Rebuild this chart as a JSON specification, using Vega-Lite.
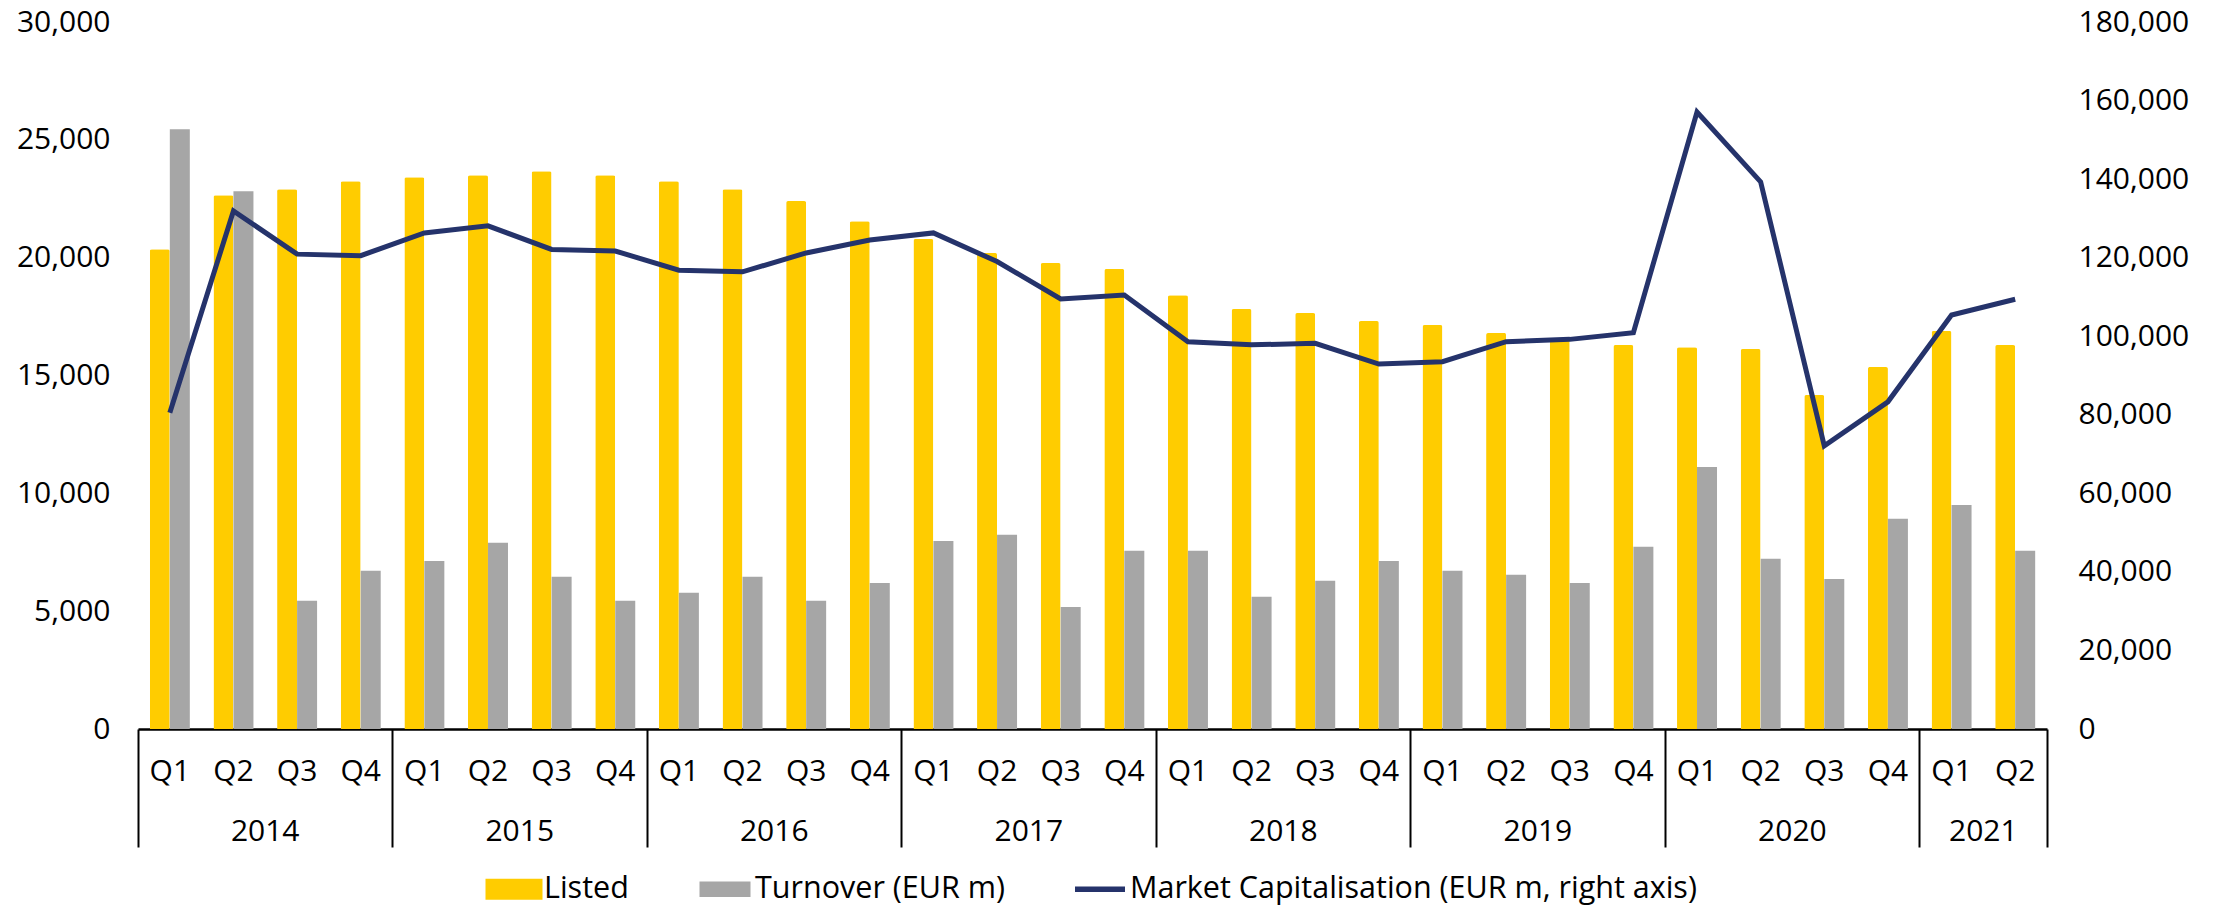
{
  "$schema": "https://vega.github.io/schema/vega-lite/v6.json",
  "autosize": {"type": "none"},
  "padding": {"left": 138, "top": 22, "right": 174, "bottom": 178},
  "width": 1909,
  "height": 707,
  "config": {
    "font": "Open Sans",
    "view": {"stroke": null},
    "axis": {"labelColor": "black", "labelFontSize": 30, "labelFont": "Open Sans", "grid": false, "title": null},
    "legend": {"layout": {"bottom": {"anchor": "middle"}}}
  },
  "data": {
    "values": [
      {"period": "2014 Q1", "Listed": 20360, "Turnover (EUR m)": 25450, "mcap": 80500},
      {"period": "2014 Q2", "Listed": 22650, "Turnover (EUR m)": 22820, "mcap": 131900},
      {"period": "2014 Q3", "Listed": 22900, "Turnover (EUR m)": 5440, "mcap": 120900},
      {"period": "2014 Q4", "Listed": 23240, "Turnover (EUR m)": 6710, "mcap": 120500},
      {"period": "2015 Q1", "Listed": 23410, "Turnover (EUR m)": 7130, "mcap": 126300},
      {"period": "2015 Q2", "Listed": 23500, "Turnover (EUR m)": 7900, "mcap": 128100},
      {"period": "2015 Q3", "Listed": 23670, "Turnover (EUR m)": 6460, "mcap": 122100},
      {"period": "2015 Q4", "Listed": 23500, "Turnover (EUR m)": 5440, "mcap": 121700},
      {"period": "2016 Q1", "Listed": 23240, "Turnover (EUR m)": 5780, "mcap": 116800},
      {"period": "2016 Q2", "Listed": 22900, "Turnover (EUR m)": 6460, "mcap": 116400},
      {"period": "2016 Q3", "Listed": 22400, "Turnover (EUR m)": 5440, "mcap": 121200},
      {"period": "2016 Q4", "Listed": 21550, "Turnover (EUR m)": 6200, "mcap": 124500},
      {"period": "2017 Q1", "Listed": 20790, "Turnover (EUR m)": 7980, "mcap": 126300},
      {"period": "2017 Q2", "Listed": 20200, "Turnover (EUR m)": 8240, "mcap": 119000},
      {"period": "2017 Q3", "Listed": 19770, "Turnover (EUR m)": 5180, "mcap": 109500},
      {"period": "2017 Q4", "Listed": 19520, "Turnover (EUR m)": 7560, "mcap": 110500},
      {"period": "2018 Q1", "Listed": 18410, "Turnover (EUR m)": 7560, "mcap": 98600},
      {"period": "2018 Q2", "Listed": 17820, "Turnover (EUR m)": 5610, "mcap": 97800},
      {"period": "2018 Q3", "Listed": 17650, "Turnover (EUR m)": 6290, "mcap": 98200},
      {"period": "2018 Q4", "Listed": 17310, "Turnover (EUR m)": 7130, "mcap": 92900},
      {"period": "2019 Q1", "Listed": 17140, "Turnover (EUR m)": 6710, "mcap": 93500},
      {"period": "2019 Q2", "Listed": 16800, "Turnover (EUR m)": 6540, "mcap": 98600},
      {"period": "2019 Q3", "Listed": 16550, "Turnover (EUR m)": 6200, "mcap": 99200},
      {"period": "2019 Q4", "Listed": 16290, "Turnover (EUR m)": 7730, "mcap": 100900},
      {"period": "2020 Q1", "Listed": 16200, "Turnover (EUR m)": 11120, "mcap": 157100},
      {"period": "2020 Q2", "Listed": 16120, "Turnover (EUR m)": 7220, "mcap": 139300},
      {"period": "2020 Q3", "Listed": 14170, "Turnover (EUR m)": 6370, "mcap": 72100},
      {"period": "2020 Q4", "Listed": 15360, "Turnover (EUR m)": 8920, "mcap": 83300},
      {"period": "2021 Q1", "Listed": 16890, "Turnover (EUR m)": 9510, "mcap": 105400},
      {"period": "2021 Q2", "Listed": 16290, "Turnover (EUR m)": 7560, "mcap": 109400}
    ]
  },
  "layer": [
    {
      "transform": [
        {"fold": ["Listed", "Turnover (EUR m)"], "as": ["series", "val"]},
        {"filter": "datum.series === 'Listed'"}
      ],
      "mark": {"type": "bar", "cornerRadiusTopLeft": 2, "cornerRadiusTopRight": 2},
      "encoding": {
        "x": {
          "field": "period", "type": "ordinal", "sort": null,
          "scale": {"paddingInner": 0, "paddingOuter": 0},
          "axis": {
            "orient": "bottom", "labelExpr": "slice(datum.value, 5)", "labelAngle": 0,
            "ticks": false, "domain": true, "domainColor": "black", "domainWidth": 2.5,
            "labelPadding": 27, "labelOverlap": false, "labelBound": false
          }
        },
        "xOffset": {
          "field": "series", "type": "nominal",
          "scale": {"domain": ["Listed", "Turnover (EUR m)"], "paddingInner": 0, "paddingOuter": 0.591}
        },
        "y": {
          "field": "val", "type": "quantitative",
          "scale": {"domain": [0, 30000], "nice": false},
          "axis": {
            "orient": "left", "values": [0, 5000, 10000, 15000, 20000, 25000, 30000], "format": ",d",
            "domain": false, "ticks": false, "labelPadding": 28
          }
        },
        "color": {
          "field": "series", "type": "nominal",
          "scale": {
            "domain": ["Listed", "Turnover (EUR m)", "Market Capitalisation (EUR m, right axis)"],
            "range": ["#FFCC00", "#A6A6A6", "#25336B"]
          },
          "legend": {
            "title": null, "orient": "bottom", "direction": "horizontal", "offset": 16,
            "labelFontSize": 30.5, "labelFont": "Open Sans", "labelColor": "black", "labelLimit": 1000,
            "symbolSize": 3249, "labelOffset": 5, "columnPadding": 70,
            "encode": {
              "symbols": {
                "update": {
                  "shape": {"signal": "datum.value === 'Listed' ? 'M-1,-0.37H1V0.37H-1Z' : (datum.value === 'Turnover (EUR m)' ? 'M-1,-0.3H1V0.3H-1Z' : 'M-1,-0.11H1V0.11H-1Z')"},
                  "size": {"signal": "datum.value === 'Listed' ? 3249 : (datum.value === 'Turnover (EUR m)' ? 2601 : 2500)"},
                  "fill": {"signal": "scale('color', datum.value)"},
                  "stroke": {"value": "transparent"},
                  "strokeWidth": {"value": 0},
                  "opacity": {"value": 1},
                  "fillOpacity": {"value": 1}
                }
              }
            }
          }
        }
      }
    },
    {
      "transform": [
        {"fold": ["Listed", "Turnover (EUR m)"], "as": ["series", "val"]},
        {"filter": "datum.series === 'Turnover (EUR m)'"}
      ],
      "mark": {"type": "bar"},
      "encoding": {
        "x": {
          "field": "period", "type": "ordinal", "sort": null,
          "axis": {
            "orient": "bottom",
            "values": ["2014 Q1", "2015 Q1", "2016 Q1", "2017 Q1", "2018 Q1", "2019 Q1", "2020 Q1", "2021 Q1"],
            "bandPosition": 0,
            "labelExpr": "slice(datum.value, 0, 4)", "labelAngle": 0,
            "ticks": true, "tickSize": 118, "tickWidth": 2, "tickColor": "black",
            "domain": false, "labelPadding": -31, "labelOverlap": false, "labelBound": false,
            "labelOffset": {"condition": {"test": "datum.value === '2021 Q1'", "value": 31.8}, "value": 95.4}
          }
        },
        "xOffset": {"field": "series", "type": "nominal"},
        "y": {
          "field": "val", "type": "quantitative",
          "scale": {"domain": [0, 30000], "nice": false},
          "axis": null
        },
        "color": {"field": "series", "type": "nominal"}
      }
    },
    {
      "mark": {"type": "line", "strokeWidth": 5, "strokeJoin": "miter"},
      "encoding": {
        "x": {
          "field": "period", "type": "ordinal", "sort": null,
          "axis": {
            "orient": "bottom", "values": ["2021 Q2"], "bandPosition": 1,
            "labels": false, "ticks": true, "tickSize": 118, "tickWidth": 2, "tickColor": "black",
            "domain": false
          }
        },
        "y": {
          "field": "mcap", "type": "quantitative",
          "scale": {"domain": [0, 180000], "nice": false},
          "axis": {
            "orient": "right", "values": [0, 20000, 40000, 60000, 80000, 100000, 120000, 140000, 160000, 180000],
            "format": ",d", "domain": false, "ticks": false, "labelPadding": 31
          }
        },
        "color": {"datum": "Market Capitalisation (EUR m, right axis)"}
      }
    }
  ],
  "resolve": {"scale": {"y": "independent"}, "axis": {"x": "independent"}}
}
